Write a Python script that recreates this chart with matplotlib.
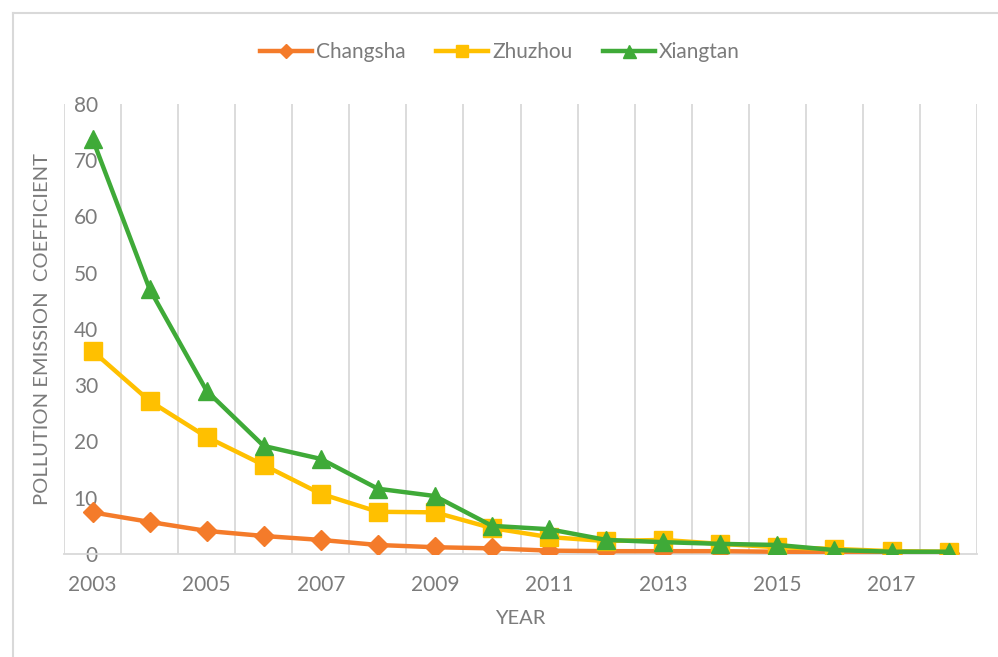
import numpy as np
import matplotlib
matplotlib.use("Agg")
import matplotlib.pyplot as plt
from matplotlib.lines import Line2D

plt.rcParams["font.family"] = ["Lato", "DejaVu Sans"]

years = list(range(2003, 2019))
changsha = [7.4, 5.7, 4.1, 3.2, 2.5, 1.6, 1.2, 1.0, 0.6, 0.5, 0.5, 0.5, 0.4, 0.3, 0.2, 0.2]
zhuzhou = [36.1, 27.2, 20.8, 15.8, 10.7, 7.5, 7.4, 4.6, 3.0, 2.3, 2.5, 1.8, 1.2, 0.9, 0.5, 0.4]
xiangtan = [73.8, 47.1, 29.0, 19.2, 16.9, 11.6, 10.3, 5.0, 4.4, 2.5, 2.1, 1.8, 1.6, 0.7, 0.4, 0.4]

text_col = "#7b7b7b"
grid_col = "#d9d9d9"

fig = plt.figure(figsize=(9.98, 6.57), dpi=100)
ax = fig.add_axes([0.0641, 0.1568, 0.915, 0.685])

x = np.arange(len(years))
ax.plot(x, changsha, color="#F47B2A", lw=3.2, marker="D", ms=10, label="Changsha", zorder=3)
ax.plot(x, zhuzhou, color="#FFC000", lw=3.2, marker="s", ms=12.5, label="Zhuzhou", zorder=4)
ax.plot(x, xiangtan, color="#3FAA38", lw=3.2, marker="^", ms=13, label="Xiangtan", zorder=5)

ax.set_xlim(-0.5, len(years) - 0.5)
ax.set_ylim(0, 80)
ax.set_yticks(np.arange(0, 81, 10))
ax.set_xticks(x[::2])
ax.set_xticklabels([str(y) for y in years[::2]])

# vertical gridlines between categories
for b in np.arange(-0.5, len(years), 1):
    ax.axvline(b, color=grid_col, lw=1.3, zorder=1)

for s in ["top", "right", "left"]:
    ax.spines[s].set_visible(False)
ax.spines["bottom"].set_color(grid_col)
ax.spines["bottom"].set_linewidth(1.3)
ax.tick_params(axis="both", length=0, colors=text_col, labelsize=15)
ax.tick_params(axis="x", pad=15)
# y tick labels sit just inside the first category column
ax.tick_params(axis="y", pad=-24.5)

ax.set_xlabel("YEAR", color=text_col, fontsize=14.5, labelpad=11)
ax.set_ylabel("POLLUTION EMISSION  COEFFICIENT", color=text_col, fontsize=14.5)
ax.yaxis.set_label_coords(-13 / 913, 0.5)

fig.legend(loc="center", bbox_to_anchor=(0.501, 0.921), ncol=3, frameon=False,
           fontsize=15, labelcolor=text_col, handlelength=2.5, columnspacing=1.45,
           handletextpad=0.2, markerscale=0.72)

# chart border (cropped)
fig.add_artist(Line2D([13 / 998, 1], [1 - 13 / 657, 1 - 13 / 657], color=grid_col, lw=1.5))
fig.add_artist(Line2D([13 / 998, 13 / 998], [0, 1 - 13 / 657], color=grid_col, lw=1.5))

fig.savefig("out.png", dpi=100)
